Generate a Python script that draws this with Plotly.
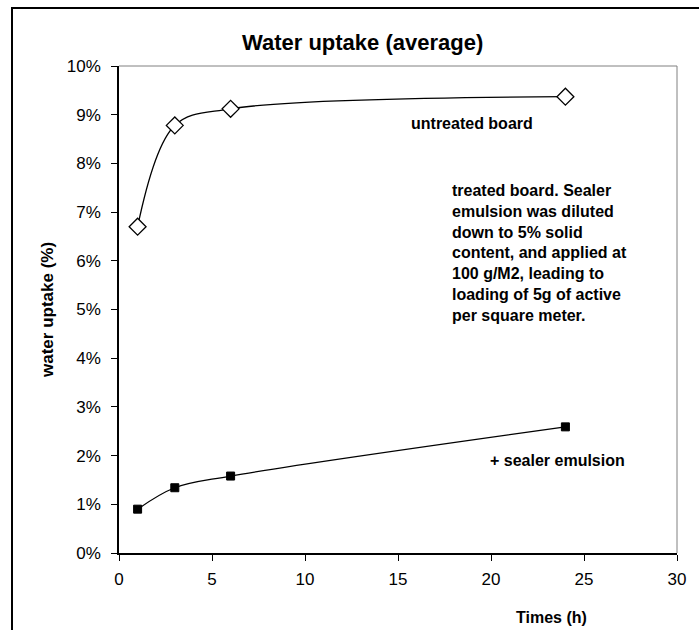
import plotly.graph_objects as go

times_h = [1, 3, 6, 24]
untreated = [0.067, 0.0878, 0.0912, 0.0937]
treated = [0.0090, 0.0134, 0.0158, 0.0259]
x_ticks = [0, 5, 10, 15, 20, 25, 30]
y_ticks = [0.0, 0.01, 0.02, 0.03, 0.04, 0.05, 0.06, 0.07, 0.08, 0.09, 0.10]

W, H = 699, 630
L, R, T, B = 119, 22, 66, 77
pw, ph = W - L - R, H - T - B

def px_x(p):
    return (p - L) / pw

def px_y(p):
    return (H - B - p) / ph

FONT = "Liberation Sans, Arial, sans-serif"

fig = go.Figure()
fig.add_trace(go.Scatter(
    x=times_h, y=untreated, mode="lines+markers",
    line=dict(color="black", width=1.3, shape="spline", smoothing=1),
    marker=dict(symbol="diamond", size=13, color="white", line=dict(color="black", width=1.3)),
    name="untreated board", showlegend=False))
fig.add_trace(go.Scatter(
    x=times_h, y=treated, mode="lines+markers",
    line=dict(color="black", width=1.3, shape="spline", smoothing=1),
    marker=dict(symbol="square", size=8, color="black", line=dict(color="black", width=1)),
    name="+ sealer emulsion", showlegend=False))

fig.update_layout(
    width=W, height=H,
    margin=dict(l=L, r=R, t=T, b=B),
    paper_bgcolor="white", plot_bgcolor="white",
    font=dict(family=FONT, color="black", size=17),
)
fig.update_xaxes(
    range=[0, 30], tickvals=x_ticks, ticks="outside", ticklen=6, tickcolor="black",
    showline=True, linecolor="black", linewidth=1.5, showgrid=False, zeroline=False,
    tickfont=dict(size=17), ticklabelstandoff=4)
fig.update_yaxes(
    range=[0, 0.1], tickvals=y_ticks, tickformat=".0%", ticks="outside", ticklen=6,
    tickcolor="black", showline=True, linecolor="black", linewidth=1.5,
    showgrid=False, zeroline=False, tickfont=dict(size=17), ticklabelstandoff=7)

# gray top/right plot border
fig.add_shape(type="line", xref="paper", yref="paper", x0=0, x1=1, y0=1, y1=1,
              line=dict(color="#808080", width=1))
fig.add_shape(type="line", xref="paper", yref="paper", x0=1, x1=1, y0=0, y1=1,
              line=dict(color="#808080", width=1))
# outer chart border (extends past bottom/right edges)
fig.add_shape(type="rect", xref="paper", yref="paper",
              x0=px_x(12), x1=px_x(720), y0=px_y(650), y1=px_y(8),
              line=dict(color="black", width=2), fillcolor="rgba(0,0,0,0)", layer="above")

ann = [
    dict(text="<b>Water uptake (average)</b>", x=px_x(362), y=px_y(43), size=22),
    dict(text="<b>Times (h)</b>", x=px_x(551), y=px_y(617), size=16),
    dict(text="<b>untreated board</b>", x=px_x(472), y=px_y(123), size=16),
    dict(text="<b>+ sealer emulsion</b>", x=px_x(557), y=px_y(460), size=16),
]
for a in ann:
    fig.add_annotation(text=a["text"], x=a["x"], y=a["y"], xref="paper", yref="paper",
                       showarrow=False, xanchor="center", yanchor="middle",
                       font=dict(size=a["size"], family=FONT, color="black"))

fig.add_annotation(text="<b>water uptake (%)</b>", x=px_x(47), y=px_y(310),
                   xref="paper", yref="paper", showarrow=False, textangle=-90,
                   xanchor="center", yanchor="middle",
                   font=dict(size=17, family=FONT, color="black"))

note = ("<b>treated board. Sealer<br>emulsion was diluted<br>down to 5% solid<br>"
        "content, and applied at<br>100 g/M2, leading to<br>loading of 5g of active<br>"
        "per square meter.</b>")
fig.add_annotation(text=note, x=px_x(450), y=px_y(180), xref="paper", yref="paper",
                   showarrow=False, xanchor="left", yanchor="top", align="left",
                   font=dict(size=16, family=FONT, color="black"))

fig.write_html("out.html")
